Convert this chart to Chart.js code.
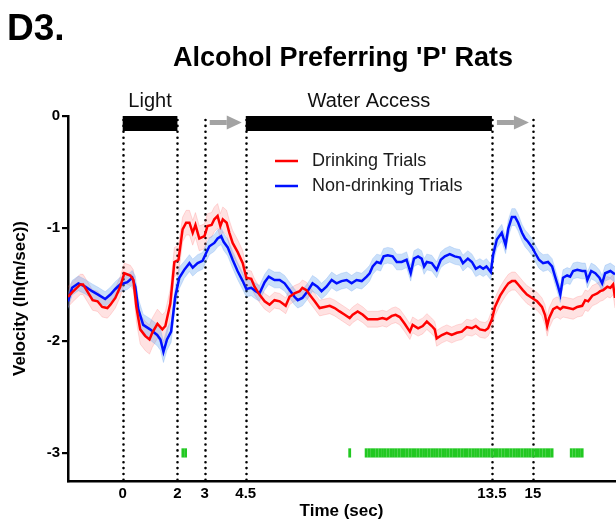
<!DOCTYPE html>
<html>
<head>
<meta charset="utf-8">
<script src="https://cdn.jsdelivr.net/npm/chart.js@4/dist/chart.umd.min.js"></script>
<style>
html,body{margin:0;padding:0;background:#fff;}
#wrap{position:relative;width:616px;height:523px;}
</style>
</head>
<body>
<div id="wrap"><canvas id="c" width="616" height="523"></canvas></div>
<script>
// ---------------- data ----------------
const redT = [-2.0,-1.85,-1.55,-1.45,-1.3,-1.1,-0.92,-0.75,-0.56,-0.45,-0.27,-0.09,0.06,0.28,0.39,0.5,0.64,0.83,0.98,1.08,1.27,1.45,1.56,1.74,1.89,2.04,2.19,2.32,2.44,2.56,2.66,2.8,2.99,3.1,3.25,3.35,3.47,3.57,3.66,3.8,3.9,4.02,4.2,4.39,4.52,4.7,4.82,5.0,5.19,5.37,5.55,5.74,5.96,6.1,6.28,6.47,6.57,6.72,6.83,7.02,7.2,7.38,7.57,7.75,7.93,8.12,8.3,8.41,8.59,8.78,8.96,9.14,9.32,9.5,9.65,9.84,9.98,10.13,10.31,10.5,10.6,10.8,10.97,11.12,11.3,11.41,11.48,11.67,11.85,12.03,12.22,12.4,12.58,12.77,12.91,13.06,13.25,13.36,13.5,13.61,13.8,13.98,14.1,14.23,14.35,14.46,14.63,14.78,14.97,15.15,15.33,15.44,15.52,15.59,15.74,15.88,16.0,16.1,16.29,16.47,16.62,16.8,16.91,17.02,17.17,17.35,17.46,17.57,17.72,17.83,17.93,18.0];
const redV = [-1.61,-1.57,-1.50,-1.50,-1.56,-1.64,-1.65,-1.70,-1.71,-1.68,-1.62,-1.52,-1.40,-1.42,-1.46,-1.70,-1.90,-1.96,-1.99,-1.93,-1.85,-1.90,-1.87,-1.67,-1.30,-1.28,-1.01,-0.95,-0.95,-1.04,-0.97,-1.09,-1.07,-0.98,-0.97,-0.92,-0.89,-0.98,-0.92,-0.95,-1.04,-1.13,-1.21,-1.31,-1.44,-1.45,-1.52,-1.59,-1.65,-1.68,-1.64,-1.65,-1.69,-1.61,-1.58,-1.56,-1.53,-1.55,-1.59,-1.65,-1.71,-1.70,-1.69,-1.71,-1.74,-1.77,-1.80,-1.77,-1.74,-1.77,-1.81,-1.81,-1.81,-1.80,-1.81,-1.78,-1.77,-1.79,-1.85,-1.92,-1.86,-1.89,-1.87,-1.83,-1.87,-1.90,-1.98,-1.95,-1.93,-1.95,-1.93,-1.92,-1.88,-1.89,-1.87,-1.90,-1.91,-1.89,-1.81,-1.70,-1.60,-1.53,-1.49,-1.47,-1.47,-1.50,-1.55,-1.59,-1.62,-1.65,-1.70,-1.77,-1.87,-1.80,-1.72,-1.70,-1.72,-1.70,-1.71,-1.72,-1.70,-1.69,-1.64,-1.65,-1.60,-1.58,-1.56,-1.55,-1.52,-1.53,-1.50,-1.62];

const blueT = [-2.0,-1.85,-1.62,-1.37,-1.12,-0.9,-0.64,-0.45,-0.27,-0.09,0.17,0.35,0.46,0.57,0.75,1.0,1.26,1.38,1.49,1.62,1.77,1.92,2.07,2.25,2.44,2.56,2.74,2.92,3.05,3.17,3.35,3.47,3.6,3.69,3.84,4.02,4.2,4.39,4.52,4.7,4.86,5.0,5.19,5.34,5.55,5.74,5.92,6.1,6.28,6.4,6.57,6.76,6.94,7.12,7.27,7.45,7.64,7.82,8.0,8.19,8.37,8.55,8.74,8.92,9.03,9.14,9.29,9.43,9.54,9.69,9.87,10.02,10.2,10.38,10.53,10.65,10.8,10.93,11.02,11.12,11.3,11.48,11.63,11.78,11.96,12.14,12.33,12.44,12.62,12.77,12.91,13.06,13.18,13.3,13.46,13.54,13.68,13.86,14.0,14.1,14.23,14.35,14.46,14.6,14.71,14.82,14.97,15.08,15.22,15.37,15.55,15.7,15.81,15.92,16.0,16.1,16.25,16.36,16.47,16.62,16.8,16.91,16.99,17.13,17.28,17.43,17.53,17.64,17.83,18.0];
const blueV = [-1.65,-1.53,-1.49,-1.52,-1.56,-1.59,-1.63,-1.59,-1.54,-1.50,-1.48,-1.44,-1.52,-1.72,-1.86,-1.90,-1.95,-1.99,-2.10,-1.99,-1.92,-1.61,-1.44,-1.37,-1.31,-1.35,-1.31,-1.29,-1.22,-1.16,-1.13,-1.09,-1.07,-1.12,-1.17,-1.28,-1.38,-1.47,-1.54,-1.53,-1.56,-1.58,-1.48,-1.43,-1.46,-1.46,-1.49,-1.55,-1.61,-1.64,-1.62,-1.56,-1.49,-1.52,-1.56,-1.52,-1.46,-1.49,-1.47,-1.46,-1.49,-1.46,-1.47,-1.43,-1.40,-1.34,-1.30,-1.31,-1.25,-1.24,-1.25,-1.30,-1.30,-1.28,-1.40,-1.27,-1.25,-1.27,-1.34,-1.30,-1.31,-1.37,-1.28,-1.25,-1.23,-1.25,-1.26,-1.31,-1.27,-1.30,-1.36,-1.34,-1.36,-1.34,-1.39,-1.24,-1.10,-1.04,-1.15,-1.00,-0.90,-0.90,-0.95,-1.04,-1.09,-1.12,-1.17,-1.22,-1.28,-1.31,-1.30,-1.34,-1.43,-1.52,-1.59,-1.44,-1.42,-1.43,-1.38,-1.37,-1.38,-1.38,-1.46,-1.38,-1.40,-1.44,-1.49,-1.40,-1.38,-1.41];

// SEM read per time segment: segment start times and SEM values
const semRedStart = [-2.0, 0.45, 2.1, 4.5, 13.5, 15.4];
const semRedVal   = [0.09, 0.13, 0.11, 0.07, 0.08, 0.09];
const semBlueStart = [-2.0, 0.45, 2.1, 4.5, 13.5, 15.4];
const semBlueVal   = [0.065, 0.095, 0.075, 0.07, 0.075, 0.07];

// significance markers (time bins)
const sigTimes = [2.2,2.3,8.3,
 8.9,9.0,9.1,9.2,9.3,9.4,9.5,9.6,9.7,9.8,9.9,10.0,10.1,10.2,10.3,10.4,10.5,10.6,10.7,10.8,10.9,11.0,
 11.1,11.2,11.3,11.4,11.5,11.6,11.7,11.8,11.9,12.0,12.1,12.2,12.3,12.4,12.5,12.6,12.7,12.8,12.9,13.0,
 13.1,13.2,13.3,13.4,13.5,13.6,13.7,13.8,13.9,14.0,14.1,14.2,14.3,14.4,14.5,14.6,14.7,14.8,14.9,15.0,
 15.1,15.2,15.3,15.4,15.5,15.6,15.7,
 16.4,16.5,16.6,16.7,16.8];
const sigLevel = -3;

const timeTicks = [0, 2, 3, 4.5, 13.5, 15];
const velTicks = [0, -1, -2, -3];
const eventLines = [0, 2, 3, 4.5, 13.5, 15];
const eventBars = [{label: 'Light', from: 0, to: 2}, {label: 'Water Access', from: 4.5, to: 13.5}];
const arrows = [[3, 4.5], [13.5, 15]];
const seriesNames = ['Drinking Trials', 'Non-drinking Trials'];

// ---------------- build ----------------
function semAt(starts, vals, t) {
  let s = vals[0];
  for (let i = 0; i < starts.length; i++) if (t >= starts[i]) s = vals[i];
  return s;
}
const pts = (T, V) => T.map((t, i) => ({x: t, y: V[i]}));
const band = (T, V, st, sv, sign) => T.map((t, i) => ({x: t, y: V[i] + sign * semAt(st, sv, t)}));

const RED = '#ff0000', BLUE = '#0010ff';
const FONT = "'Liberation Sans', Arial, Helvetica, sans-serif";

const overlay = {
  id: 'overlay',
  beforeDatasetsDraw(chart) {
    const {ctx, scales: {x, y}} = chart;
    ctx.save();
    ctx.strokeStyle = '#000';
    ctx.lineWidth = 2.6;
    ctx.lineCap = 'round';
    ctx.setLineDash([0, 5.9]);
    eventLines.forEach(t => {
      const px = Math.round(x.getPixelForValue(t)) + 0.5;
      ctx.beginPath();
      ctx.moveTo(px, y.getPixelForValue(0) + 4);
      ctx.lineTo(px, y.bottom - 1);
      ctx.stroke();
    });
    ctx.restore();
  },
  afterDatasetsDraw(chart) {
    const {ctx, scales: {x, y}} = chart;
    const top = y.getPixelForValue(0);
    const barH = 15;
    ctx.save();
    eventBars.forEach(b => {
      const x0 = x.getPixelForValue(b.from), x1 = x.getPixelForValue(b.to);
      ctx.fillStyle = '#000';
      ctx.fillRect(x0, top, x1 - x0, barH);
      ctx.font = '20px ' + FONT;
      ctx.textAlign = 'center';
      ctx.textBaseline = 'alphabetic';
      ctx.fillStyle = '#111';
      ctx.fillText(b.label, (x0 + x1) / 2, top - 9);
    });
    ctx.fillStyle = '#a3a3a3';
    arrows.forEach(a => {
      const x0 = x.getPixelForValue(a[0]) + 5, x1 = x.getPixelForValue(a[1]) - 4;
      const cy = top + 6.5;
      const head = 15;
      ctx.fillRect(x0, cy - 2.5, (x1 - head) - x0, 5);
      ctx.beginPath();
      ctx.moveTo(x1 - head, cy - 7);
      ctx.lineTo(x1, cy);
      ctx.lineTo(x1 - head, cy + 7);
      ctx.closePath();
      ctx.fill();
    });
    const items = [{c: RED, t: seriesNames[0], yy: 161}, {c: BLUE, t: seriesNames[1], yy: 186}];
    items.forEach(it => {
      ctx.strokeStyle = it.c;
      ctx.lineWidth = 2.5;
      ctx.beginPath();
      ctx.moveTo(275, it.yy);
      ctx.lineTo(298, it.yy);
      ctx.stroke();
      ctx.fillStyle = '#1a1a1a';
      ctx.font = '18px ' + FONT;
      ctx.textAlign = 'left';
      ctx.textBaseline = 'middle';
      ctx.fillText(it.t, 312, it.yy);
    });
    ctx.restore();
  },
  afterDraw(chart) {
    const ctx = chart.ctx;
    ctx.save();
    ctx.fillStyle = '#000';
    ctx.textBaseline = 'alphabetic';
    ctx.font = 'bold 37px ' + FONT;
    ctx.textAlign = 'left';
    ctx.fillText('D3.', 7, 40);
    ctx.font = 'bold 27px ' + FONT;
    ctx.textAlign = 'center';
    ctx.fillText("Alcohol Preferring 'P' Rats", 343, 66);
    ctx.restore();
  }
};

new Chart(document.getElementById('c'), {
  type: 'line',
  data: {
    datasets: [
      {label: seriesNames[0], data: pts(redT, redV), borderColor: RED, borderWidth: 2.5, pointRadius: 0, tension: 0, fill: false, order: 1},
      {label: seriesNames[1], data: pts(blueT, blueV), borderColor: BLUE, borderWidth: 2.5, pointRadius: 0, tension: 0, fill: false, order: 2},
      {label: 'red+', data: band(redT, redV, semRedStart, semRedVal, 1), borderColor: 'rgba(255,120,120,0.25)', borderWidth: 1, pointRadius: 0, tension: 0, fill: '+1', backgroundColor: 'rgba(255,60,60,0.15)', order: 4},
      {label: 'red-', data: band(redT, redV, semRedStart, semRedVal, -1), borderColor: 'rgba(255,120,120,0.25)', borderWidth: 1, pointRadius: 0, tension: 0, fill: false, order: 4},
      {label: 'blue+', data: band(blueT, blueV, semBlueStart, semBlueVal, 1), borderColor: 'rgba(120,170,240,0.3)', borderWidth: 1, pointRadius: 0, tension: 0, fill: '+1', backgroundColor: 'rgba(60,140,235,0.27)', order: 3},
      {label: 'blue-', data: band(blueT, blueV, semBlueStart, semBlueVal, -1), borderColor: 'rgba(120,170,240,0.3)', borderWidth: 1, pointRadius: 0, tension: 0, fill: false, order: 3},
      {type: 'scatter', label: 'sig', data: sigTimes.map(t => ({x: t, y: sigLevel})), pointStyle: 'line', rotation: 90, radius: 4.6, borderColor: '#22c822', borderWidth: 2.8, backgroundColor: '#22c822', order: 0}
    ]
  },
  options: {
    responsive: false,
    animation: false,
    events: [],
    layout: {autoPadding: false, padding: {top: 116, right: 1, left: 0, bottom: 0}},
    plugins: {legend: {display: false}, tooltip: {enabled: false}, title: {display: false}},
    scales: {
      x: {
        type: 'linear', min: -2, max: 18,
        afterBuildTicks: s => { s.ticks = timeTicks.map(v => ({value: v})); },
        afterFit: s => { s.height = 42; s.paddingLeft = 0; s.paddingRight = 0; },
        grid: {display: false, drawTicks: false},
        border: {display: true, color: '#000', width: 2.5},
        ticks: {color: '#000', font: {family: FONT, size: 15, weight: 'bold'}, padding: 4, maxRotation: 0, autoSkip: false,
          callback: v => String(v)},
        title: {display: true, text: 'Time (sec)', color: '#000', font: {family: FONT, size: 17, weight: 'bold'}, padding: {top: 0, bottom: 1}}
      },
      y: {
        type: 'linear', min: -3.25, max: 0,
        afterBuildTicks: s => { s.ticks = velTicks.map(v => ({value: v})); },
        afterFit: s => { s.width = 68; s.paddingTop = 0; s.paddingBottom = 0; },
        grid: {drawOnChartArea: false, drawTicks: true, tickLength: 6, color: '#000', lineWidth: 2.2},
        border: {display: true, color: '#000', width: 2.5},
        ticks: {color: '#000', font: {family: FONT, size: 15, weight: 'bold'}, padding: 2, autoSkip: false,
          callback: v => String(v)},
        title: {display: true, text: 'Velocity (ln(m/sec))', color: '#000', font: {family: FONT, size: 17, weight: 'bold'}, padding: {top: 10, bottom: 0}}
      }
    }
  },
  plugins: [overlay]
});
</script>
</body>
</html>
